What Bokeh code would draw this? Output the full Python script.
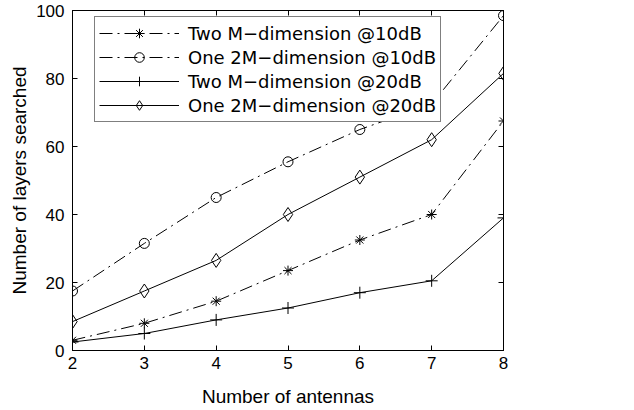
from bokeh.plotting import figure
from bokeh.models import LinearAxis, Legend, LegendItem, Range1d, FixedTicker
from bokeh.embed import file_html
from bokeh.resources import INLINE

antennas = [2, 3, 4, 5, 6, 7, 8]
two_m_10db = [3, 8, 14.5, 23.5, 32.5, 40, 67.5]
one_2m_10db = [17.5, 31.5, 45, 55.5, 65, 72.5, 98.5]
two_m_20db = [2.5, 5, 9, 12.5, 17, 20.5, 39]
one_2m_20db = [8.5, 17.5, 26.5, 40, 51, 62, 81.5]
labels = ["Two M\u2212dimension @10dB", "One 2M\u2212dimension @10dB",
          "Two M\u2212dimension @20dB", "One 2M\u2212dimension @20dB"]
x_ticks = [2, 3, 4, 5, 6, 7, 8]
y_ticks = [0, 20, 40, 60, 80, 100]

FONT = "Liberation Sans"

p = figure(width=634, height=410, output_backend="svg", toolbar_location=None,
           x_range=Range1d(2, 8), y_range=Range1d(0, 100),
           min_border_left=72, min_border_right=131, min_border_top=10, min_border_bottom=60,
           x_axis_label="Number of antennas", y_axis_label="Number of layers searched")
p.grid.visible = False
p.outline_line_color = "black"
p.outline_line_width = 1
p.background_fill_color = "white"
p.border_fill_color = "white"

for ax in [p.xaxis[0], p.yaxis[0]]:
    ax.major_tick_in = 5
    ax.major_tick_out = 0
    ax.minor_tick_in = 0
    ax.minor_tick_out = 0
    ax.axis_line_color = "black"
    ax.major_label_text_font = FONT
    ax.major_label_text_font_size = "17px"
    ax.major_label_text_color = "black"
    ax.axis_label_text_font = FONT
    ax.axis_label_text_font_size = "19px"
    ax.axis_label_text_font_style = "normal"
    ax.axis_label_text_color = "black"
p.xaxis[0].ticker = FixedTicker(ticks=x_ticks)
p.yaxis[0].ticker = FixedTicker(ticks=y_ticks)
p.xaxis[0].major_label_standoff = 6
p.yaxis[0].major_label_standoff = 8
p.xaxis[0].axis_label_standoff = 14
p.yaxis[0].axis_label_standoff = 3

for loc, tk in [("above", x_ticks), ("right", y_ticks)]:
    a = LinearAxis(ticker=FixedTicker(ticks=tk))
    a.major_tick_in = 5
    a.major_tick_out = 0
    a.minor_tick_in = 0
    a.minor_tick_out = 0
    a.major_label_text_font_size = "0px"
    a.major_label_standoff = 0
    a.axis_line_color = "black"
    p.add_layout(a, loc)

DD = "13 5 2 5"
items = []
series = [
    (two_m_10db, DD, "asterisk", 10),
    (one_2m_10db, DD, "circle", 10),
    (two_m_20db, "solid", "cross", 12),
    (one_2m_20db, "solid", "diamond", 14),
]
for (ys, dash, marker, size), lab in zip(series, labels):
    r1 = p.line(antennas, ys, line_color="black", line_width=1, line_dash=dash)
    r2 = p.scatter(antennas, ys, marker=marker, size=size, line_color="black",
                   fill_color=None, line_width=1)
    items.append(LegendItem(label=lab, renderers=[r1, r2]))

legend = Legend(items=items, location=(22, 228))
legend.glyph_width = 80
legend.glyph_height = 24
legend.label_height = 24
legend.label_text_font = "DejaVu Sans"
legend.label_text_font_size = "18px"
legend.label_text_color = "black"
legend.spacing = 0
legend.padding = 4
legend.margin = 0
legend.label_standoff = 9
legend.border_line_color = "black"
legend.border_line_width = 1
legend.background_fill_alpha = 1
p.add_layout(legend)

with open("out.html", "w") as f:
    f.write(file_html(p, INLINE))
